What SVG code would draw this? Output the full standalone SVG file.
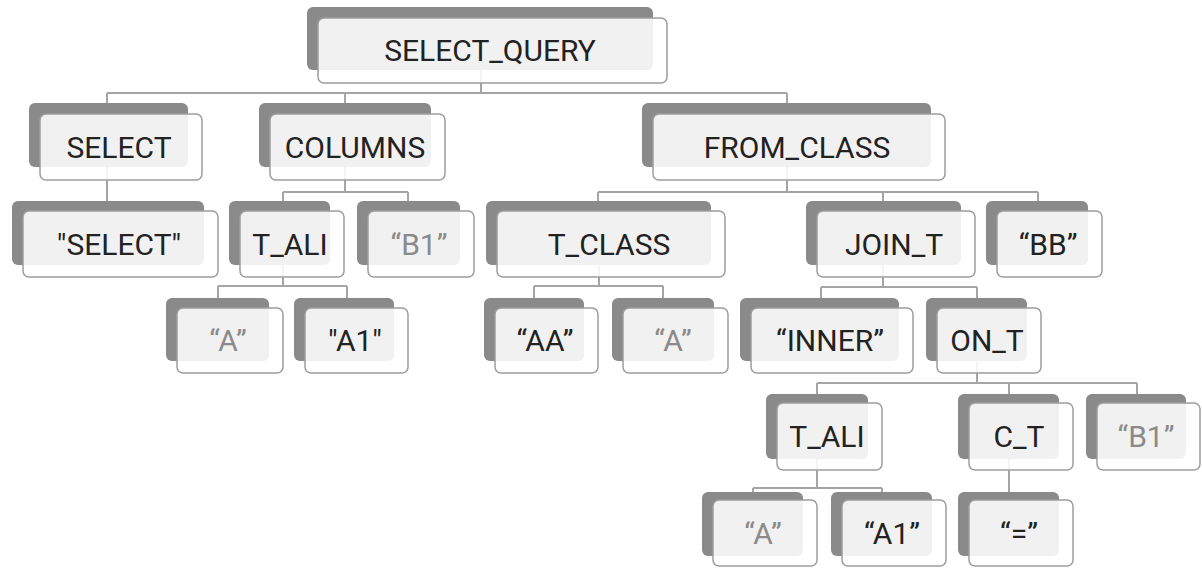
<svg xmlns="http://www.w3.org/2000/svg" width="1202" height="568" viewBox="0 0 1202 568">
<style>
.sh{fill:#8a8a8a}
.bx{fill:#fff;fill-opacity:0.88;stroke:#9d9d9d;stroke-width:1.5}
.t{font-family:Roboto,"Liberation Sans",sans-serif;font-size:30px;fill:#222;text-anchor:middle}
.g{fill:#8a8a8a}
.c{fill:none;stroke:#a5a5a5;stroke-width:2}
</style>
<rect width="1202" height="568" fill="#fff"/>
<g id="connectors">
<path class="c" d="M481 50V93M107 93H787M107 93V103M345 93V103M787 93V103"/>
<path class="c" d="M107 147V202"/>
<path class="c" d="M345 147V192M283 192H408M283 192V202M408 192V202"/>
<path class="c" d="M787 147V192M598 192H1038M598 192V202M883 192V202M1038 192V202"/>
<path class="c" d="M283 244V286M218 286H347M218 286V298M347 286V298"/>
<path class="c" d="M599 244V286M534 286H663M534 286V298M663 286V298"/>
<path class="c" d="M883 244V287M821 287H977M821 287V298M977 287V298"/>
<path class="c" d="M977 340V383M817 383H1137M817 383V394M1009 383V394M1137 383V394"/>
<path class="c" d="M817 436V488M753 488H882M753 488V492M882 488V492"/>
<path class="c" d="M1009 436V492"/>
</g>
<g id="n_select_query"><rect class="sh" x="307" y="7" width="346" height="63" rx="6"/><rect class="bx" x="318" y="18" width="349" height="65" rx="6"/><text class="t" x="490" y="61">SELECT_QUERY</text></g>
<g id="n_select"><rect class="sh" x="29" y="103" width="159" height="64" rx="6"/><rect class="bx" x="40" y="114" width="162" height="66" rx="6"/><text class="t" x="119" y="158">SELECT</text></g>
<g id="n_columns"><rect class="sh" x="259" y="103" width="172" height="64" rx="6"/><rect class="bx" x="270" y="114" width="175" height="66" rx="6"/><text class="t" x="355" y="158">COLUMNS</text></g>
<g id="n_from_class"><rect class="sh" x="642" y="103" width="289" height="64" rx="6"/><rect class="bx" x="653" y="114" width="292" height="66" rx="6"/><text class="t" x="797" y="158">FROM_CLASS</text></g>
<g id="n_select_str"><rect class="sh" x="12" y="201" width="192" height="64" rx="6"/><rect class="bx" x="23" y="211" width="195" height="66" rx="6"/><text class="t" x="119" y="255">"SELECT"</text></g>
<g id="n_t_ali1"><rect class="sh" x="229" y="201" width="101" height="64" rx="6"/><rect class="bx" x="240" y="211" width="104" height="66" rx="6"/><text class="t" x="290" y="255">T_ALI</text></g>
<g id="n_b1_1"><rect class="sh" x="357" y="201" width="103" height="64" rx="6"/><rect class="bx" x="368" y="211" width="106" height="66" rx="6"/><text class="t g" x="419" y="255">“B1”</text></g>
<g id="n_t_class"><rect class="sh" x="486" y="201" width="225" height="64" rx="6"/><rect class="bx" x="497" y="211" width="228" height="66" rx="6"/><text class="t" x="609" y="255">T_CLASS</text></g>
<g id="n_join_t"><rect class="sh" x="806" y="201" width="155" height="64" rx="6"/><rect class="bx" x="817" y="211" width="158" height="66" rx="6"/><text class="t" x="894" y="255">JOIN_T</text></g>
<g id="n_bb"><rect class="sh" x="986" y="201" width="102" height="64" rx="6"/><rect class="bx" x="997" y="211" width="105" height="66" rx="6"/><text class="t" x="1048" y="255">“BB”</text></g>
<g id="n_a1"><rect class="sh" x="166" y="298" width="103" height="63" rx="6"/><rect class="bx" x="177" y="308" width="106" height="65" rx="6"/><text class="t g" x="228" y="351">“A”</text></g>
<g id="n_a1str"><rect class="sh" x="294" y="298" width="100" height="63" rx="6"/><rect class="bx" x="305" y="308" width="103" height="65" rx="6"/><text class="t" x="355" y="351">"A1"</text></g>
<g id="n_aa"><rect class="sh" x="484" y="298" width="100" height="63" rx="6"/><rect class="bx" x="495" y="308" width="103" height="65" rx="6"/><text class="t" x="545" y="351">“AA”</text></g>
<g id="n_a2"><rect class="sh" x="612" y="298" width="102" height="63" rx="6"/><rect class="bx" x="623" y="308" width="105" height="65" rx="6"/><text class="t g" x="673" y="351">“A”</text></g>
<g id="n_inner"><rect class="sh" x="740" y="298" width="159" height="63" rx="6"/><rect class="bx" x="751" y="308" width="162" height="65" rx="6"/><text class="t" x="830" y="351">“INNER”</text></g>
<g id="n_on_t"><rect class="sh" x="926" y="298" width="101" height="63" rx="6"/><rect class="bx" x="937" y="308" width="104" height="65" rx="6"/><text class="t" x="987" y="351">ON_T</text></g>
<g id="n_t_ali2"><rect class="sh" x="766" y="394" width="102" height="65" rx="6"/><rect class="bx" x="777" y="403" width="105" height="67" rx="6"/><text class="t" x="827" y="447">T_ALI</text></g>
<g id="n_c_t"><rect class="sh" x="958" y="394" width="101" height="65" rx="6"/><rect class="bx" x="969" y="403" width="104" height="67" rx="6"/><text class="t" x="1019" y="447">C_T</text></g>
<g id="n_b1_2"><rect class="sh" x="1086" y="394" width="100" height="65" rx="6"/><rect class="bx" x="1097" y="403" width="103" height="67" rx="6"/><text class="t g" x="1146" y="447">“B1”</text></g>
<g id="n_a3"><rect class="sh" x="702" y="492" width="101" height="64" rx="6"/><rect class="bx" x="713" y="500" width="104" height="66" rx="6"/><text class="t g" x="763" y="544">“A”</text></g>
<g id="n_a1_2"><rect class="sh" x="831" y="492" width="101" height="64" rx="6"/><rect class="bx" x="842" y="500" width="104" height="66" rx="6"/><text class="t" x="892" y="544">“A1”</text></g>
<g id="n_eq"><rect class="sh" x="958" y="492" width="101" height="64" rx="6"/><rect class="bx" x="969" y="500" width="104" height="66" rx="6"/><text class="t" x="1019" y="544">“=”</text></g>
</svg>
